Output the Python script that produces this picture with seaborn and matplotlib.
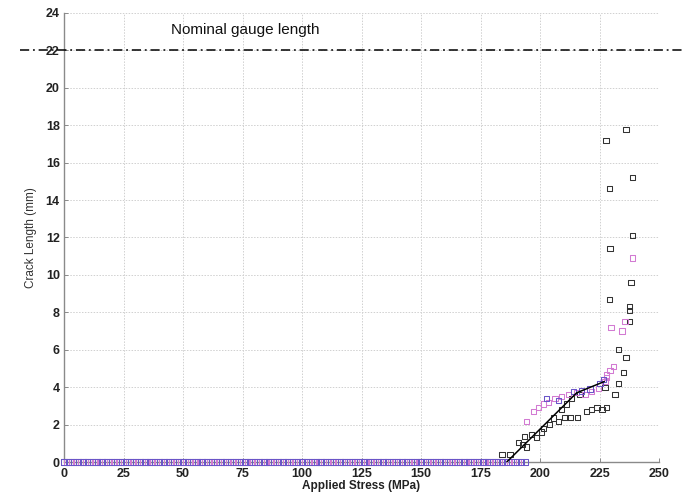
import numpy as np
import pandas as pd
import matplotlib
matplotlib.use("Agg")
import matplotlib.pyplot as plt
import seaborn as sns

# Load steps below crack initiation (no measurable crack)
baseline_black = np.arange(0, 186, 2)
baseline_magenta = np.arange(1, 192, 2)
baseline_purple = np.arange(0, 195, 2)

# Specimen A (black squares): stress (MPa) and crack length (mm)
black_stress = [184.0, 187.4, 190.9, 192.7, 194.4, 193.3, 196.5, 198.6, 200.7, 201.4,
                203.9, 205.6, 207.7, 210.5, 212.6, 215.7, 209.1, 211.2, 213.3, 216.8,
                219.6, 221.7, 223.9, 226.0, 228.0, 227.3, 231.5, 232.8, 234.9, 236.1,
                233.0, 237.4, 237.6, 237.4, 238.2, 229.0, 229.4, 238.7, 229.0, 238.7,
                227.7, 236.1]
black_length = [0.4, 0.4, 1.05, 0.95, 0.8, 1.35, 1.45, 1.3, 1.6, 1.8,
                2.0, 2.35, 2.15, 2.4, 2.4, 2.4, 2.8, 3.1, 3.4, 3.6,
                2.7, 2.8, 2.9, 2.8, 2.9, 4.0, 3.6, 4.2, 4.8, 5.6,
                6.0, 7.5, 8.1, 8.3, 9.6, 8.7, 11.4, 12.1, 14.6, 15.2,
                17.2, 17.75]

# Specimen B (magenta squares)
magenta_stress = [194.4, 197.2, 199.3, 201.4, 203.5, 206.3, 209.1, 211.9, 215.4, 218.9,
                  221.7, 224.5, 227.3, 228.0, 229.4, 228.0, 231.0, 229.8, 234.4, 235.7,
                  238.7]
magenta_length = [2.15, 2.7, 2.9, 3.1, 3.2, 3.4, 3.5, 3.6, 3.7, 3.6,
                  3.75, 3.95, 4.3, 4.65, 4.9, 4.5, 5.1, 7.2, 7.0, 7.5,
                  10.9]

# Specimen C (violet squares)
purple_stress = [202.8, 207.7, 214.0, 217.5, 221.0, 225.2, 226.6]
purple_length = [3.4, 3.3, 3.75, 3.8, 3.9, 4.2, 4.4]

# Piecewise trend through the growth region
fit_stress = [186.0, 215.4, 227.0]
fit_length = [0.0, 3.7, 4.3]

nominal_gauge = 22.0

x_ticks = [0, 25, 50, 75, 100, 125, 150, 175, 200, 225, 250]
y_ticks = [0, 2, 4, 6, 8, 10, 12, 14, 16, 18, 20, 22, 24]

sns.set_theme(style="whitegrid")
plt.rcParams["font.family"] = ["Liberation Sans", "DejaVu Sans"]

fig = plt.figure(figsize=(6.83, 4.96), dpi=100)
ax = fig.add_axes([0.0937, 0.0685, 0.8713, 0.9055])

def squares(x, y, color):
    n_before = len(ax.collections)
    sns.scatterplot(x=x, y=y, ax=ax, marker="s", s=14,
                    facecolor="none", edgecolor=color, linewidth=0.75,
                    legend=False, zorder=3)
    for coll in ax.collections[n_before:]:
        coll.set_clip_on(False)

squares(baseline_black, np.zeros(len(baseline_black)), "#333333")
squares(baseline_magenta, np.zeros(len(baseline_magenta)), "#d27ad2")
squares(baseline_purple, np.zeros(len(baseline_purple)), "#6a55c8")
squares(black_stress, black_length, "#333333")
squares(magenta_stress, magenta_length, "#d27ad2")
squares(purple_stress, purple_length, "#6a55c8")

sns.lineplot(x=fit_stress, y=fit_length, ax=ax, color="black", linewidth=1.1,
             zorder=4)

# Gauge length reference, running past the plot frame
ax.plot([-18.5, 262], [nominal_gauge, nominal_gauge], color="black",
        linestyle=(0, (6, 2.5, 1.2, 2.5)), linewidth=1.1, clip_on=False, zorder=5)
ax.text(45, 23.1, "Nominal gauge length", fontsize=11, color="#111111",
        ha="left", va="center")

ax.set_xlim(0, 250)
ax.set_ylim(0, 24)
ax.set_xticks(x_ticks)
ax.set_yticks(y_ticks)
ax.set_xticklabels([str(t) for t in x_ticks], fontsize=9, fontweight="bold",
                   color="#222222")
ax.set_yticklabels([str(t) for t in y_ticks], fontsize=9, fontweight="bold",
                   color="#222222")
ax.set_xlabel("Applied Stress (MPa)", fontsize=8.5, fontweight="bold",
              color="#222222", labelpad=0)
ax.set_ylabel("Crack Length (mm)", fontsize=8.5, color="#333333", labelpad=6)

ax.grid(True, color="#d0d0d0", linestyle=(0, (1.5, 1.5)), linewidth=0.7)
ax.set_facecolor("white")
for side in ["top", "right"]:
    ax.spines[side].set_visible(False)
for side in ["left", "bottom"]:
    ax.spines[side].set_visible(True)
    ax.spines[side].set_color("#8a8a8a")
    ax.spines[side].set_linewidth(1.0)
ax.tick_params(axis="both", direction="in", length=3, width=0.7,
               color="#8a8a8a", left=True, bottom=True)
ax.tick_params(axis="x", pad=4)
ax.tick_params(axis="y", pad=3)

fig.savefig("out.png", dpi=100, facecolor="white")
